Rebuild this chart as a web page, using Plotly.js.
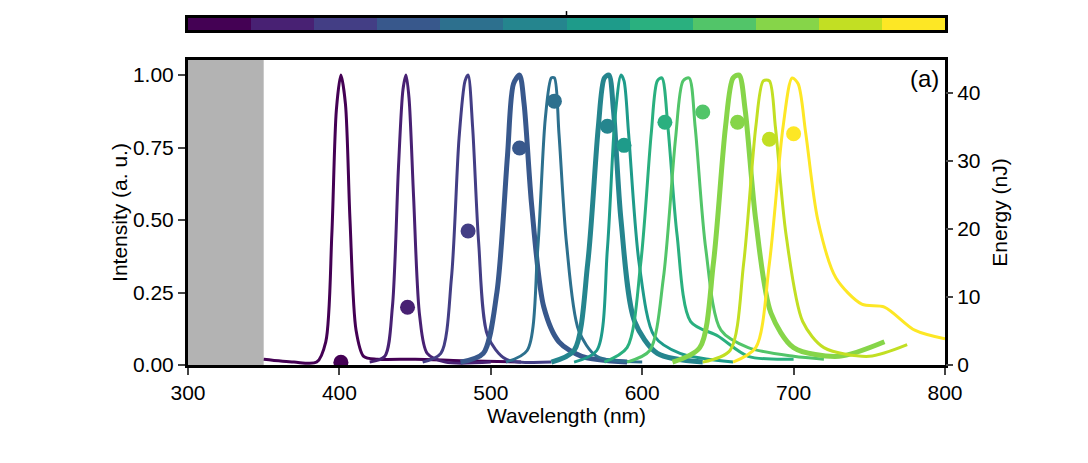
<!DOCTYPE html>
<html><head><script src="https://cdn.plot.ly/plotly-3.0.1.min.js"></script></head>
<body style="margin:0"><div id="chart" style="width:1088px;height:463px"></div>
<script>
var colors = ['#440154','#482173','#433e85','#38588c','#2d708e','#25858e','#1e9b8a','#2ab07f','#52c569','#86d549','#c2df23','#fde725'];
var widths = [3,3,3,5,3,5,3,3,3,5,3,3];

var wl = [
 [350,370,385,391,395,398,401,404,407,411,416,425,450,480,520],
 [420,430,435,439,442,444,446,449,453,458,470,500],
 [455,467,474,479,483,485,488,492,498,510,540],
 [480,495,504,511,515,519,522,527,535,545,560,590],
 [510,524,531,536,540,542,545,550,558,570,600],
 [540,555,564,571,575,578,581,586,595,610,640],
 [555,570,577,582,586,588,591,598,608,625,660],
 [575,590,599,606,610,613,617,623,632,650,670,700],
 [590,605,614,622,627,631,635,642,652,670,700,720],
 [620,638,647,655,660,664,668,675,685,700,730,760],
 [640,658,667,675,680,684,688,695,706,720,750,775],
 [660,675,684,693,699,703,708,716,728,745,760,780,800]
];
var inten = [
 [0.02,0.01,0.01,0.08,0.45,0.88,1.0,0.9,0.5,0.12,0.03,0.02,0.02,0.015,0.01],
 [0.01,0.03,0.2,0.68,0.95,1,0.92,0.58,0.17,0.04,0.01,0.01],
 [0.01,0.04,0.3,0.78,0.98,1,0.82,0.42,0.1,0.02,0.01],
 [0.01,0.04,0.25,0.72,0.97,1,0.9,0.55,0.2,0.08,0.03,0.01],
 [0.01,0.05,0.4,0.85,0.99,0.99,0.8,0.42,0.12,0.03,0.01],
 [0.01,0.05,0.35,0.82,0.99,1,0.88,0.5,0.15,0.04,0.01],
 [0.01,0.05,0.4,0.85,1,0.98,0.8,0.35,0.1,0.04,0.01],
 [0.01,0.06,0.35,0.8,0.98,0.99,0.82,0.45,0.15,0.1,0.03,0.02],
 [0.01,0.05,0.3,0.78,0.98,0.99,0.82,0.4,0.12,0.06,0.03,0.02],
 [0.01,0.06,0.35,0.82,0.99,1,0.88,0.5,0.18,0.06,0.03,0.08],
 [0.01,0.05,0.35,0.82,0.98,0.98,0.82,0.45,0.15,0.06,0.03,0.07],
 [0.01,0.06,0.35,0.82,0.99,0.97,0.8,0.5,0.3,0.21,0.2,0.12,0.09]
];
var dotWl = [401,445,485,519,542,577,588,615,640,663,684,700];
var dotEnergy = [0.4,8.5,19.7,31.9,38.8,35.1,32.3,35.7,37.2,35.7,33.2,34.0];

var data = [];
for (var i = 0; i < wl.length; i++) {
  data.push({type:'scatter', mode:'lines', x:wl[i], y:inten[i], line:{color:colors[i], width:widths[i], shape:'spline', smoothing:0.8}, hoverinfo:'skip'});
}
data.push({type:'scatter', mode:'markers', x:dotWl, y:dotEnergy, yaxis:'y2', marker:{color:colors, size:15}});
data.push({type:'heatmap', z:[[0,1,2,3,4,5,6,7,8,9,10,11]], x:[0,1,2,3,4,5,6,7,8,9,10,11], xaxis:'x3', yaxis:'y3',
  colorscale:colors.map(function(c,k){return [k/11,c];}), showscale:false});

var font = {family:'Liberation Sans, Arial', size:21, color:'#000'};
var ax = {showline:true, mirror:true, linewidth:3, linecolor:'#000', ticks:'outside', ticklen:7, tickwidth:1.5, showgrid:false, zeroline:false, tickfont:font};

Plotly.newPlot('chart', data, {
  width:1088, height:463, showlegend:false, font:font,
  margin:{l:188, r:143, t:18, b:98},
  plot_bgcolor:'#fff', paper_bgcolor:'#fff',
  xaxis:Object.assign({}, ax, {range:[300,800], dtick:100, title:{text:'Wavelength (nm)', font:font, standoff:2}}),
  yaxis:Object.assign({}, ax, {domain:[0,0.879], range:[0,1.052], tickvals:[0,0.25,0.5,0.75,1], ticktext:['0.00','0.25','0.50','0.75','1.00'], title:{text:'Intensity (a. u.)', font:font}}),
  yaxis2:Object.assign({}, ax, {overlaying:'y', side:'right', range:[0,44.85], dtick:10, showline:false, title:{text:'Energy (nJ)', font:font}}),
  xaxis3:{anchor:'y3', range:[-0.5,11.5], showline:true, mirror:true, linewidth:3, linecolor:'#000', showticklabels:false, ticks:'', showgrid:false, zeroline:false},
  yaxis3:{anchor:'x3', domain:[0.965,1], showline:true, mirror:true, linewidth:3, linecolor:'#000', showticklabels:false, ticks:'', showgrid:false, zeroline:false},
  shapes:[
    {type:'rect', xref:'x', yref:'paper', x0:300, x1:350, y0:0, y1:0.879, fillcolor:'#b3b3b3', line:{width:0}, layer:'below'},
    {type:'line', xref:'paper', yref:'paper', x0:0.5, x1:0.5, y0:1, y1:1.02, line:{color:'#000', width:1.5}}
  ],
  annotations:[{xref:'paper', yref:'paper', x:0.995, y:0.87, xanchor:'right', yanchor:'top', text:'(a)', showarrow:false, font:{family:'Liberation Sans, Arial', size:24, color:'#000'}}]
}, {displayModeBar:false});
</script></body></html>
